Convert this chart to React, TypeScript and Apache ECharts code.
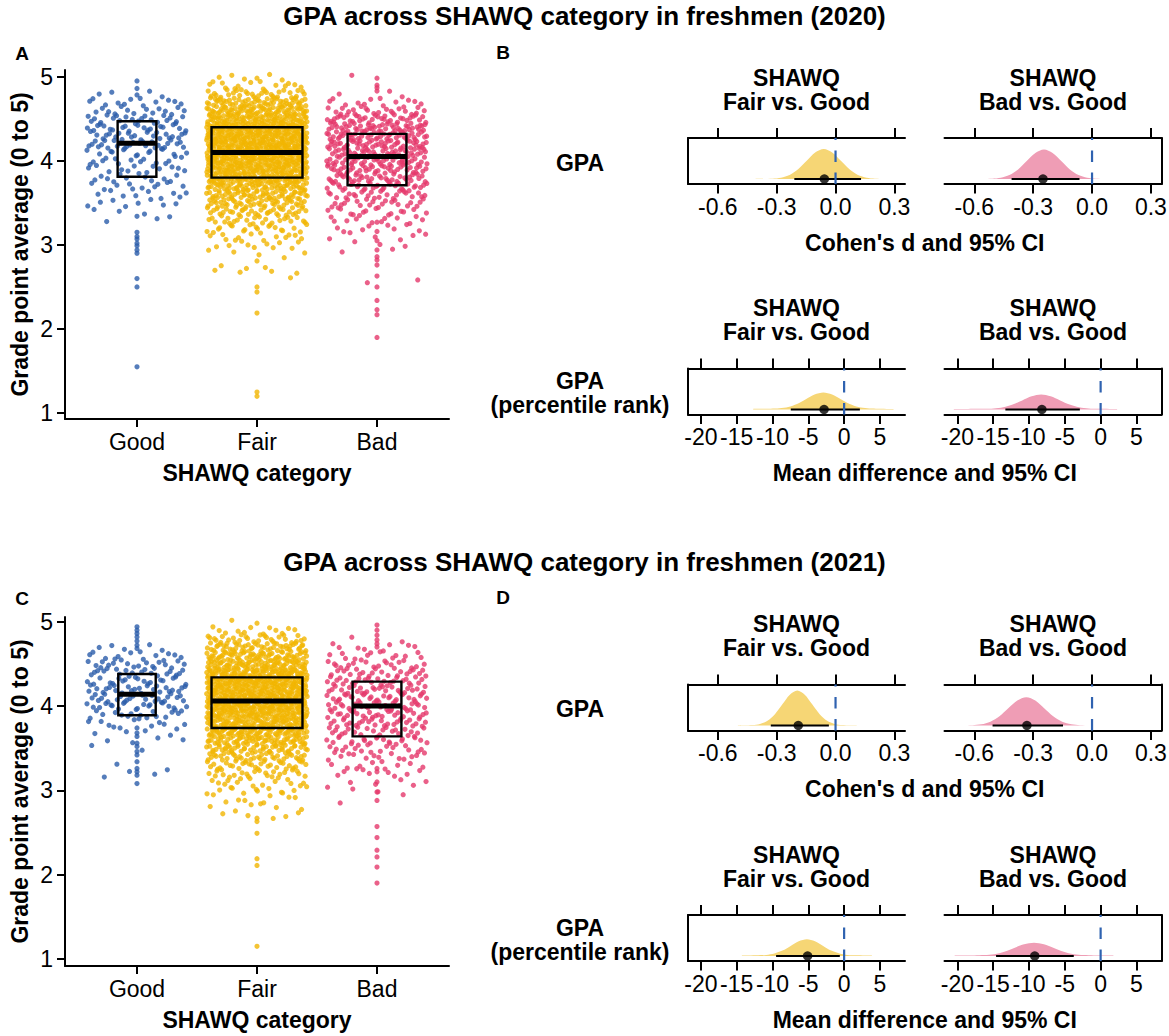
import React, { useEffect, useRef } from "react";
import * as echarts from "echarts";

// ---------------- DATA ----------------
const CATEGORIES = ["Good", "Fair", "Bad"];
const GROUP_COLORS = ["#2B5CAA", "#F1B501", "#E5386B"];
const DENSITY_FILLS = ["#F6D675", "#EF9DB5"];
const ZERO_LINE_COLOR = "#2F62B0";

const GPA_TICKS = [1, 2, 3, 4, 5];
const COHEN_TICKS = [-0.6, -0.3, 0, 0.3];
const PCT_TICKS = [-20, -15, -10, -5, 0, 5];

// GPA histogram bins (bin centres, width 0.1)
const BIN_CENTERS = [5.0, 4.9, 4.8, 4.7, 4.6, 4.5, 4.4, 4.3, 4.2, 4.1, 4.0, 3.9, 3.8, 3.7, 3.6, 3.5, 3.4, 3.3, 3.2, 3.1, 3.0, 2.9, 2.8, 2.7, 2.6];

// 2020 – counts per bin of jittered points
const GOOD_2020_COUNTS = [0, 0, 5, 12, 14, 20, 22, 22, 25, 15, 13, 12, 12, 10, 9, 8, 3, 3, 0, 0, 0, 0, 0, 0, 0];
const FAIR_2020_COUNTS = [6, 14, 30, 55, 70, 80, 95, 100, 100, 100, 95, 90, 80, 65, 55, 45, 35, 25, 18, 14, 10, 4, 2, 6, 1];
const BAD_2020_COUNTS = [2, 0, 3, 12, 22, 35, 45, 45, 45, 42, 40, 38, 35, 30, 25, 20, 15, 12, 8, 6, 3, 2, 0, 0, 2];
// 2020 – values lying on the category centre line
const GOOD_2020_CENTER = [4.95, 4.86, 3.34, 3.15, 3.1, 3.07, 3.02, 2.99, 2.94, 2.9, 2.6, 2.5, 1.55];
const FAIR_2020_CENTER = [2.81, 2.5, 2.44, 2.19, 1.25, 1.2];
const BAD_2020_CENTER = [4.9, 4.87, 4.83, 3.27, 3.16, 3.05, 2.94, 2.86, 2.82, 2.76, 2.63, 2.5, 2.34, 2.23, 2.17, 1.9];

// 2021
const GOOD_2021_COUNTS = [0, 0, 0, 6, 12, 18, 20, 18, 24, 22, 20, 15, 10, 6, 4, 2, 0, 1, 4, 0, 0, 0, 0, 0, 0];
const FAIR_2021_COUNTS = [2, 12, 28, 48, 58, 72, 88, 95, 95, 95, 92, 88, 80, 72, 62, 50, 40, 30, 22, 15, 12, 8, 6, 5, 0];
const BAD_2021_COUNTS = [0, 0, 3, 8, 12, 18, 22, 25, 27, 28, 28, 27, 25, 22, 20, 17, 14, 10, 8, 5, 3, 2, 0, 0, 0];
const GOOD_2021_CENTER = [4.94, 4.9, 4.86, 4.82, 4.77, 4.72, 3.74, 3.68, 3.64, 3.56, 3.52, 3.46, 3.42, 3.34, 3.26, 3.22, 3.18, 3.08];
const FAIR_2021_CENTER = [2.67, 2.63, 2.49, 2.19, 2.11, 1.15];
const BAD_2021_CENTER = [4.96, 4.9, 4.84, 4.74, 4.7, 3.26, 3.22, 3.1, 2.98, 2.88, 2.57, 2.44, 2.29, 2.21, 2.09, 1.9];

// Box statistics (Good, Fair, Bad)
const BOX_2020_Q1 = [3.81, 3.8, 3.71];
const BOX_2020_MED = [4.21, 4.1, 4.05];
const BOX_2020_Q3 = [4.47, 4.4, 4.32];
const BOX_2021_Q1 = [3.89, 3.74, 3.64];
const BOX_2021_MED = [4.14, 4.06, 4.0];
const BOX_2021_Q3 = [4.38, 4.34, 4.29];

// Effect-size densities: x values and density heights
const D2020_COHEN_FAIR_X = [-0.408, -0.321, -0.278, -0.234, -0.191, -0.147, -0.104, -0.06, -0.017, 0.027, 0.071, 0.114, 0.158, 0.201, 0.288];
const D2020_COHEN_FAIR_Y = [0.01, 0.05, 0.2, 0.62, 1.5, 2.79, 4.06, 4.6, 4.06, 2.79, 1.5, 0.62, 0.2, 0.05, 0.01];
const D2020_COHEN_BAD_X = [-0.597, -0.509, -0.465, -0.421, -0.377, -0.333, -0.289, -0.245, -0.201, -0.157, -0.113, -0.069, -0.025, 0.019, 0.107];
const D2020_COHEN_BAD_Y = [0.01, 0.05, 0.2, 0.61, 1.48, 2.76, 4.01, 4.55, 4.01, 2.76, 1.48, 0.61, 0.2, 0.05, 0.01];
const D2020_PCT_FAIR_X = [-12.7, -10.25, -9.03, -7.8, -6.58, -5.35, -4.13, -2.9, -1.68, -0.45, 0.78, 2.0, 3.23, 4.45, 6.9];
const D2020_PCT_FAIR_Y = [0.006, 0.008, 0.012, 0.025, 0.055, 0.103, 0.15, 0.17, 0.15, 0.103, 0.055, 0.025, 0.012, 0.008, 0.006];
const D2020_PCT_BAD_X = [-20.5, -16.25, -14.93, -13.6, -12.28, -10.95, -9.63, -8.3, -6.98, -5.65, -4.33, -3.0, -1.68, -0.35, 2.3];
const D2020_PCT_BAD_Y = [0.005, 0.007, 0.01, 0.022, 0.049, 0.091, 0.132, 0.15, 0.132, 0.091, 0.049, 0.022, 0.01, 0.007, 0.005];

const D2021_COHEN_FAIR_X = [-0.499, -0.423, -0.385, -0.347, -0.309, -0.271, -0.233, -0.195, -0.157, -0.119, -0.081, -0.043, -0.005, 0.033, 0.109];
const D2021_COHEN_FAIR_Y = [0.01, 0.06, 0.24, 0.73, 1.75, 3.27, 4.75, 5.38, 4.75, 3.27, 1.75, 0.73, 0.24, 0.06, 0.01];
const D2021_COHEN_BAD_X = [-0.701, -0.61, -0.564, -0.518, -0.472, -0.427, -0.381, -0.335, -0.289, -0.244, -0.198, -0.152, -0.106, -0.061, 0.031];
const D2021_COHEN_BAD_Y = [0.01, 0.05, 0.19, 0.59, 1.41, 2.64, 3.84, 4.35, 3.84, 2.64, 1.41, 0.59, 0.19, 0.05, 0.01];
const D2021_PCT_FAIR_X = [-14.28, -12.01, -10.88, -9.74, -8.61, -7.47, -6.34, -5.2, -4.07, -2.93, -1.8, -0.66, 0.48, 1.61, 3.88];
const D2021_PCT_FAIR_Y = [0.005, 0.008, 0.011, 0.025, 0.054, 0.101, 0.147, 0.167, 0.147, 0.101, 0.054, 0.025, 0.011, 0.008, 0.005];
const D2021_PCT_BAD_X = [-20.38, -17.61, -16.23, -14.84, -13.46, -12.07, -10.69, -9.3, -7.92, -6.53, -5.15, -3.76, -2.38, -0.99, 1.78];
const D2021_PCT_BAD_Y = [0.004, 0.006, 0.009, 0.018, 0.043, 0.081, 0.117, 0.133, 0.117, 0.081, 0.043, 0.018, 0.009, 0.006, 0.004];

// point estimates and 95% CI (Fair vs Good, Bad vs Good)
const EST_2020_COHEN = [-0.057, -0.25];
const CI_2020_COHEN = [[-0.21, 0.13], [-0.41, -0.064]];
const EST_2020_PCT = [-2.8, -8.2];
const CI_2020_PCT = [[-7.45, 2.2], [-13.3, -2.9]];
const EST_2021_COHEN = [-0.19, -0.332];
const CI_2021_COHEN = [[-0.33, -0.034], [-0.507, -0.148]];
const EST_2021_PCT = [-5.1, -9.2];
const CI_2021_PCT = [[-9.5, -0.6], [-14.6, -3.75]];

const STRIP_LABELS = ["SHAWQ\nFair vs. Good", "SHAWQ\nBad vs. Good"];

// ---------------- LAYOUT ----------------
const FONT = "'Liberation Sans', Arial, Helvetica, sans-serif";
const W = 1169;
const H = 1036;
const JIT_LEFT = 65;
const JIT_WIDTH = 384;
const JIT_HEIGHT = 349;
const DENS_LEFTS = [688, 944.5];
const DENS_WIDTH = 217;
const DENS_HEIGHT = 46;
const JITTER_HALF = 0.42;
const MAX_BOX_WIDTH = 0.758;
const FS = 23;

// deterministic low-discrepancy placement (Halton sequence)
function radicalInverse(i: number, base: number) {
  let f = 1;
  let r = 0;
  let n = i;
  while (n > 0) {
    f /= base;
    r += f * (n % base);
    n = Math.floor(n / base);
  }
  return r;
}

const YEARS = [
  {
    title: "GPA across SHAWQ category in freshmen (2020)",
    counts: [GOOD_2020_COUNTS, FAIR_2020_COUNTS, BAD_2020_COUNTS],
    centers: [GOOD_2020_CENTER, FAIR_2020_CENTER, BAD_2020_CENTER],
    q1: BOX_2020_Q1, med: BOX_2020_MED, q3: BOX_2020_Q3,
    jitTop: 70, yMin: 0.93, yMax: 5.08,
    densTops: [138, 368.5],
    titleY: 16, letters: ["A", "B"], letterY: 53,
    dens: [
      [[D2020_COHEN_FAIR_X, D2020_COHEN_FAIR_Y], [D2020_COHEN_BAD_X, D2020_COHEN_BAD_Y]],
      [[D2020_PCT_FAIR_X, D2020_PCT_FAIR_Y], [D2020_PCT_BAD_X, D2020_PCT_BAD_Y]],
    ],
    est: [EST_2020_COHEN, EST_2020_PCT],
    ci: [CI_2020_COHEN, CI_2020_PCT],
  },
  {
    title: "GPA across SHAWQ category in freshmen (2021)",
    counts: [GOOD_2021_COUNTS, FAIR_2021_COUNTS, BAD_2021_COUNTS],
    centers: [GOOD_2021_CENTER, FAIR_2021_CENTER, BAD_2021_CENTER],
    q1: BOX_2021_Q1, med: BOX_2021_MED, q3: BOX_2021_Q3,
    jitTop: 617, yMin: 0.917, yMax: 5.056,
    densTops: [684.5, 915],
    titleY: 562, letters: ["C", "D"], letterY: 598,
    dens: [
      [[D2021_COHEN_FAIR_X, D2021_COHEN_FAIR_Y], [D2021_COHEN_BAD_X, D2021_COHEN_BAD_Y]],
      [[D2021_PCT_FAIR_X, D2021_PCT_FAIR_Y], [D2021_PCT_BAD_X, D2021_PCT_BAD_Y]],
    ],
    est: [EST_2021_COHEN, EST_2021_PCT],
    ci: [CI_2021_COHEN, CI_2021_PCT],
  },
];

const ROWS = [
  { label: "GPA", ticks: COHEN_TICKS, xMin: -0.752, xMax: 0.354, yMin: -0.77, yMax: 6.31,
    fmt: (v: number) => v.toFixed(1), axisTitle: "Cohen's d and 95% CI" },
  { label: "GPA\n(percentile rank)", ticks: PCT_TICKS, xMin: -21.8, xMax: 8.5, yMin: -0.05, yMax: 0.41,
    fmt: (v: number) => String(Math.round(v)), axisTitle: "Mean difference and 95% CI" },
];

const BLACK_LINE = { color: "#000", width: 2 };

function buildPoints(counts: number[], centers: number[], cat: number) {
  const pts: number[][] = [];
  let k = 0;
  counts.forEach((n, b) => {
    const c = BIN_CENTERS[b];
    for (let j = 0; j < n; j++) {
      k++;
      const u = radicalInverse(k, 2);
      const v = radicalInverse(k, 3);
      pts.push([cat + (u * 2 - 1) * JITTER_HALF, c - 0.05 + v * 0.1]);
    }
  });
  centers.forEach((val) => pts.push([cat, val]));
  return pts;
}

function text(x: number, y: number, t: string, size: number, bold: boolean, extra: any = {}) {
  return {
    type: "text",
    x,
    y,
    silent: true,
    ...extra,
    style: {
      text: t,
      fontSize: size,
      fontWeight: bold ? "bold" : "normal",
      fontFamily: FONT,
      fill: "#000",
      align: "center",
      verticalAlign: "middle",
      lineHeight: 24,
    },
  };
}

function buildOption() {
  const grid: any[] = [];
  const xAxis: any[] = [];
  const yAxis: any[] = [];
  const series: any[] = [];
  const graphic: any[] = [];

  YEARS.forEach((yr) => {
    // ---- jitter + box panel ----
    const gi = grid.length;
    grid.push({ left: JIT_LEFT, top: yr.jitTop, width: JIT_WIDTH, height: JIT_HEIGHT, outerBoundsMode: "none" });
    const xi = xAxis.length;
    xAxis.push({
      gridIndex: gi, type: "value", min: 0.4, max: 3.6,
      axisLine: { show: true, onZero: false, lineStyle: BLACK_LINE },
      axisTick: { show: true, customValues: [1, 2, 3], length: 8, lineStyle: BLACK_LINE },
      axisLabel: { customValues: [1, 2, 3], formatter: (v: number) => CATEGORIES[Math.round(v) - 1],
        fontSize: FS, color: "#000", margin: 11, fontFamily: FONT },
      splitLine: { show: false },
    });
    const yi = yAxis.length;
    yAxis.push({
      gridIndex: gi, type: "value", min: yr.yMin, max: yr.yMax,
      axisLine: { show: true, onZero: false, lineStyle: BLACK_LINE },
      axisTick: { show: true, customValues: GPA_TICKS, length: 8, lineStyle: BLACK_LINE },
      axisLabel: { customValues: GPA_TICKS, fontSize: FS, color: "#000", margin: 12, fontFamily: FONT },
      splitLine: { show: false },
    });
    const ns: number[] = [];
    yr.counts.forEach((counts, g) => {
      const pts = buildPoints(counts, yr.centers[g], g + 1);
      ns.push(pts.length);
      series.push({
        type: "scatter", xAxisIndex: xi, yAxisIndex: yi, data: pts, symbolSize: 5.2,
        itemStyle: { color: GROUP_COLORS[g] }, silent: true, z: 2,
      });
    });
    const nMax = Math.max(...ns);
    const boxData = CATEGORIES.map((_, g) => [g + 1, yr.q1[g], yr.med[g], yr.q3[g], MAX_BOX_WIDTH * Math.sqrt(ns[g] / nMax)]);
    series.push({
      type: "custom", xAxisIndex: xi, yAxisIndex: yi, data: boxData, silent: true, z: 5,
      encode: { x: 0, y: [1, 2, 3] },
      renderItem: (_p: any, api: any) => {
        const c = api.value(0);
        const hw = api.value(4) / 2;
        const tl = api.coord([c - hw, api.value(3)]);
        const br = api.coord([c + hw, api.value(1)]);
        const ml = api.coord([c - hw, api.value(2)]);
        const mr = api.coord([c + hw, api.value(2)]);
        return {
          type: "group",
          children: [
            { type: "rect", shape: { x: tl[0], y: tl[1], width: br[0] - tl[0], height: br[1] - tl[1] },
              style: { fill: "none", stroke: "#000", lineWidth: 2.4 } },
            { type: "line", shape: { x1: ml[0], y1: ml[1], x2: mr[0], y2: mr[1] },
              style: { stroke: "#000", lineWidth: 5 } },
          ],
        };
      },
    });

    // texts for jitter panel
    graphic.push(text(W / 2, yr.titleY, yr.title, 26, true));
    graphic.push(text(22, yr.letterY, yr.letters[0], 19, true));
    graphic.push(text(503, yr.letterY - 1, yr.letters[1], 19, true));
    graphic.push(text(20, yr.jitTop + JIT_HEIGHT / 2, "Grade point average (0 to 5)", FS, true, { rotation: Math.PI / 2 }));
    graphic.push(text(JIT_LEFT + JIT_WIDTH / 2, yr.jitTop + JIT_HEIGHT + 54, "SHAWQ category", FS, true));

    // ---- density panels ----
    ROWS.forEach((row, r) => {
      const top = yr.densTops[r];
      [0, 1].forEach((col) => {
        const g2 = grid.length;
        grid.push({ left: DENS_LEFTS[col], top, width: DENS_WIDTH, height: DENS_HEIGHT, outerBoundsMode: "none" });
        const bx = xAxis.length;
        xAxis.push({
          gridIndex: g2, type: "value", position: "bottom", min: row.xMin, max: row.xMax,
          axisLine: { show: true, onZero: false, lineStyle: BLACK_LINE },
          axisTick: { show: true, customValues: row.ticks, length: 9.5, lineStyle: BLACK_LINE },
          axisLabel: { customValues: row.ticks, formatter: row.fmt, fontSize: FS, color: "#000", margin: 11, fontFamily: FONT },
          splitLine: { show: false },
        });
        xAxis.push({
          gridIndex: g2, type: "value", position: "top", min: row.xMin, max: row.xMax,
          axisLine: { show: true, onZero: false, lineStyle: BLACK_LINE },
          axisTick: { show: true, customValues: row.ticks, length: 10, lineStyle: BLACK_LINE },
          axisLabel: { show: false },
          splitLine: { show: false },
        });
        const by = yAxis.length;
        yAxis.push({
          gridIndex: g2, type: "value", position: col === 0 ? "left" : "right", min: row.yMin, max: row.yMax,
          axisLine: { show: true, onZero: false, lineStyle: BLACK_LINE },
          axisTick: { show: false }, axisLabel: { show: false }, splitLine: { show: false },
        });
        const [dx, dy] = yr.dens[r][col];
        series.push({
          type: "line", xAxisIndex: bx, yAxisIndex: by, data: dx.map((x: number, i: number) => [x, dy[i]]),
          smooth: 0.3, symbol: "none", silent: true, z: 2,
          lineStyle: { width: 0, opacity: 0 },
          areaStyle: { color: DENSITY_FILLS[col], opacity: 1 },
        });
        const ci = yr.ci[r][col];
        series.push({
          type: "line", xAxisIndex: bx, yAxisIndex: by, data: [[ci[0], 0], [ci[1], 0]],
          symbol: "none", silent: true, z: 3, lineStyle: { color: "#000", width: 1.8 },
        });
        series.push({
          type: "scatter", xAxisIndex: bx, yAxisIndex: by, data: [[yr.est[r][col], 0]],
          symbolSize: 9.5, itemStyle: { color: "#000" }, silent: true, z: 4,
        });
        series.push({
          type: "line", xAxisIndex: bx, yAxisIndex: by, data: [[0, row.yMin], [0, row.yMax]],
          symbol: "none", silent: true, z: 5,
          lineStyle: { color: ZERO_LINE_COLOR, width: 2.2, type: [11.5, 10.5] },
        });
        graphic.push(text(DENS_LEFTS[col] + DENS_WIDTH / 2, top - 48.5, STRIP_LABELS[col], FS, true));
      });
      graphic.push(text(580, top + DENS_HEIGHT / 2 + 1.5, row.label, FS, true));
      graphic.push(text((DENS_LEFTS[0] + DENS_LEFTS[1] + DENS_WIDTH) / 2, top + DENS_HEIGHT + 58.5, row.axisTitle, FS, true));
    });
  });

  return {
    animation: false,
    backgroundColor: "#fff",
    textStyle: { fontFamily: FONT },
    grid,
    xAxis,
    yAxis,
    series,
    graphic: { elements: graphic },
  };
}

export default function App() {
  const ref = useRef<HTMLDivElement>(null);
  useEffect(() => {
    if (!ref.current) return;
    const chart = echarts.init(ref.current, null, { renderer: "svg", width: W, height: H });
    chart.setOption(buildOption());
    return () => chart.dispose();
  }, []);
  return (
    <div
      ref={ref}
      style={{ position: "absolute", left: 0, top: 0, width: W, height: H, background: "#fff" }}
    />
  );
}
